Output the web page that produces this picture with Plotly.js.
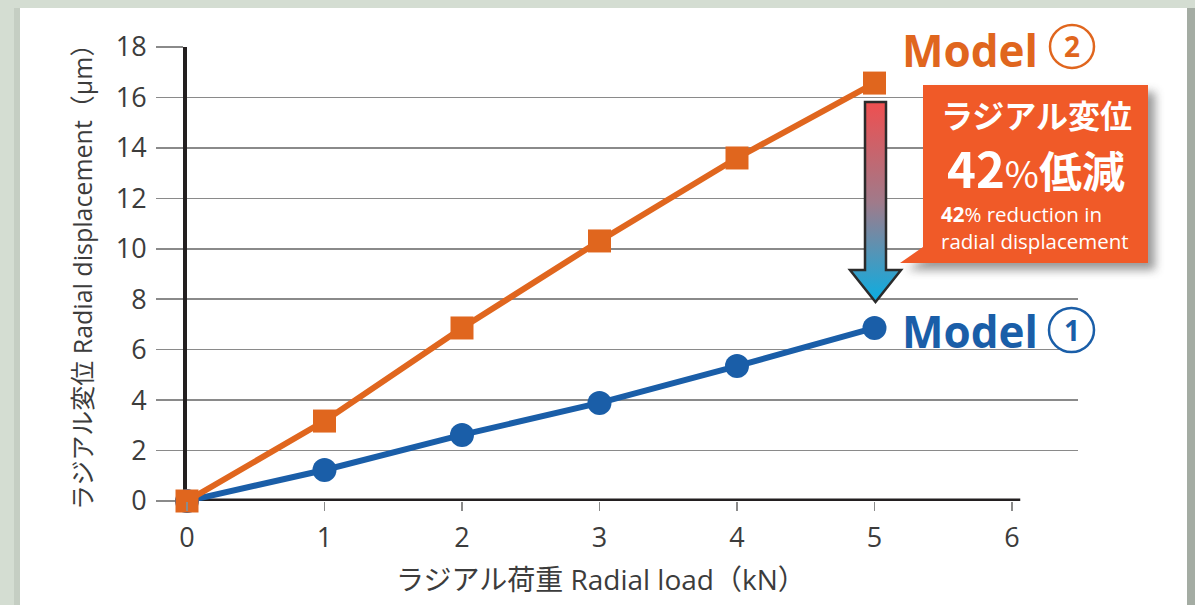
<!DOCTYPE html>
<html>
<head>
<meta charset="utf-8">
<script src="https://cdn.plot.ly/plotly-3.0.1.min.js"></script>
<style>html,body{margin:0;padding:0;background:#d4ddd2;}#chart{width:1195px;height:605px;}</style>
</head>
<body>
<div id="chart"></div>
<script>
// ---- data ----
const loads = [0, 1, 2, 3, 4, 5];
const model1 = [0, 1.23, 2.62, 3.89, 5.35, 6.86];
const model2 = [0, 3.17, 6.86, 10.31, 13.6, 16.57];
const xTickVals = [0, 1, 2, 3, 4, 5, 6];
const yTickVals = [0, 2, 4, 6, 8, 10, 12, 14, 16, 18];
const xTitle = 'ラジアル荷重 Radial load（kN）';
const yTitle = 'ラジアル変位 Radial displacement（μm）';
const model1Label = 'Model';
const model2Label = 'Model';
const calloutJa = 'ラジアル変位';
const calloutPct = '42';
const calloutJa2 = '低減';
const calloutEn = '<b>42</b>% reduction in<br>radial displacement';

// ---- layout helpers (pixel -> paper) ----
const L = 187, R = 117, T = 47, B = 104, W = 1195 - L - R, H = 605 - T - B;
const PX = X => (X - L) / W;
const PY = Y => (605 - B - Y) / H;
const svgURI = s => 'data:image/svg+xml;charset=utf-8,' + encodeURIComponent(s);

const ORANGE = '#e0661e', BLUE = '#1a5ea8', TXT = '#3c3c3c', GRID = '#8a8a8a';
const LATIN = 'Open Sans, Noto Sans CJK JP, sans-serif';
const CJK = 'Noto Sans CJK JP, Open Sans, sans-serif';

const traces = [
  {x: loads, y: model1, type: 'scatter', mode: 'lines+markers', cliponaxis: false,
   line: {color: BLUE, width: 6}, marker: {symbol: 'circle', size: 24, color: BLUE}, showlegend: false},
  {x: loads, y: model2, type: 'scatter', mode: 'lines+markers', cliponaxis: false,
   line: {color: ORANGE, width: 6}, marker: {symbol: 'square', size: 23, color: ORANGE}, showlegend: false}
];

const calloutSvg = "<svg xmlns='http://www.w3.org/2000/svg' width='280' height='210' viewBox='893 78 280 210'>" +
  "<defs><filter id='s' x='-20%' y='-20%' width='140%' height='140%'><feGaussianBlur stdDeviation='5'/></filter></defs>" +
  "<path d='M930,92 L1155,92 L1155,270 L907,270 L930,254 Z' fill='#444' opacity='0.55' filter='url(#s)'/>" +
  "<path d='M923,85 L1148,85 L1148,263 L900,263 L923,247 Z' fill='#f05a28'/></svg>";

const arrowSvg = "<svg xmlns='http://www.w3.org/2000/svg' width='62' height='210' viewBox='845 97 62 210'>" +
  "<defs><linearGradient id='g' x1='0' y1='0' x2='0' y2='1'>" +
  "<stop offset='0' stop-color='#ef4f50'/><stop offset='0.5' stop-color='#a07a8a'/><stop offset='1' stop-color='#0aaee2'/></linearGradient></defs>" +
  "<path d='M865,102 L886,102 L886,270 L901,270 L875.5,302 L850,270 L865,270 Z' fill='url(#g)' stroke='#2b2b2b' stroke-width='2.5' stroke-linejoin='miter'/></svg>";

const layout = {
  width: 1195, height: 605,
  margin: {l: L, r: R, t: T, b: B},
  paper_bgcolor: '#d4ddd2',
  plot_bgcolor: 'rgba(0,0,0,0)',
  showlegend: false,
  xaxis: {
    range: [0, 6.48], tickvals: xTickVals, ticks: 'outside', ticklen: 9, tickwidth: 1.5, tickcolor: GRID,
    showgrid: false, zeroline: false, showline: false, ticklabelstandoff: 4,
    tickfont: {family: LATIN, size: 27, color: TXT}, fixedrange: true
  },
  yaxis: {
    range: [0, 18], tickvals: yTickVals, ticks: 'outside', ticklen: 27, tickwidth: 1.5, tickcolor: GRID,
    showgrid: true, gridcolor: GRID, gridwidth: 1.5, zeroline: false,
    showline: true, linecolor: '#231f20', linewidth: 4, layer: 'below traces', ticklabelstandoff: 4,
    tickfont: {family: LATIN, size: 27, color: TXT}, fixedrange: true
  },
  shapes: [
    {type: 'rect', xref: 'paper', yref: 'paper', x0: PX(20), x1: PX(1187), y0: PY(8), y1: PY(620),
     fillcolor: '#ffffff', line: {width: 0}, layer: 'below'},
    {type: 'rect', xref: 'paper', yref: 'paper', x0: PX(14), x1: PX(20), y0: PY(8), y1: PY(620),
     fillcolor: 'rgba(150,165,150,0.25)', line: {width: 0}, layer: 'below'},
    {type: 'rect', xref: 'paper', yref: 'paper', x0: PX(1187), x1: PX(1196), y0: PY(8), y1: PY(620),
     fillcolor: '#a4aca3', line: {width: 0}, layer: 'below'},
    {type: 'line', xref: 'x', yref: 'y', x0: 0, x1: 6.06, y0: 0, y1: 0,
     line: {color: '#231f20', width: 5}, layer: 'between'},
    {type: 'circle', xref: 'paper', yref: 'paper', x0: PX(1050), x1: PX(1094), y0: PY(25), y1: PY(68),
     fillcolor: '#ffffff', line: {color: ORANGE, width: 2.5}, layer: 'above'},
    {type: 'circle', xref: 'paper', yref: 'paper', x0: PX(1049), x1: PX(1094), y0: PY(308), y1: PY(352),
     fillcolor: '#ffffff', line: {color: BLUE, width: 2.5}, layer: 'above'}
  ],
  images: [
    {source: svgURI(calloutSvg), xref: 'paper', yref: 'paper', x: PX(893), y: PY(78),
     sizex: 280 / W, sizey: 210 / H, xanchor: 'left', yanchor: 'top', sizing: 'stretch', layer: 'above'},
    {source: svgURI(arrowSvg), xref: 'paper', yref: 'paper', x: PX(845), y: PY(97),
     sizex: 62 / W, sizey: 210 / H, xanchor: 'left', yanchor: 'top', sizing: 'stretch', layer: 'above'}
  ],
  annotations: [
    {text: xTitle, xref: 'paper', yref: 'paper', x: PX(601), y: PY(579), showarrow: false,
     xanchor: 'center', yanchor: 'middle', font: {family: LATIN, size: 28, color: TXT}},
    {text: yTitle, xref: 'paper', yref: 'paper', x: PX(82), y: PY(271), showarrow: false, textangle: -90,
     xanchor: 'center', yanchor: 'middle', font: {family: LATIN, size: 25, color: TXT}},
    {text: '<b>' + model2Label + '</b>', xref: 'paper', yref: 'paper', x: PX(900), y: PY(50), showarrow: false,
     xanchor: 'left', yanchor: 'middle', font: {family: LATIN, size: 44, color: ORANGE}},
    {text: '<b>2</b>', xref: 'paper', yref: 'paper', x: PX(1072), y: PY(46), showarrow: false,
     xanchor: 'center', yanchor: 'middle', font: {family: LATIN, size: 28, color: ORANGE}},
    {text: '<b>' + model1Label + '</b>', xref: 'paper', yref: 'paper', x: PX(900), y: PY(331), showarrow: false,
     xanchor: 'left', yanchor: 'middle', font: {family: LATIN, size: 44, color: BLUE}},
    {text: '<b>1</b>', xref: 'paper', yref: 'paper', x: PX(1072), y: PY(330), showarrow: false,
     xanchor: 'center', yanchor: 'middle', font: {family: LATIN, size: 28, color: BLUE}},
    {text: '<b>' + calloutJa + '</b>', xref: 'paper', yref: 'paper', x: PX(1036), y: PY(114), showarrow: false,
     xanchor: 'center', yanchor: 'middle', font: {family: CJK, size: 32, color: '#ffffff'}},
    {text: '<span style="font-size:49px"><b>' + calloutPct + '</b></span><span style="font-size:37px">%</span><b>' + calloutJa2 + '</b>',
     xref: 'paper', yref: 'paper', x: PX(1036), y: PY(166), showarrow: false,
     xanchor: 'center', yanchor: 'middle', font: {family: CJK, size: 43, color: '#ffffff'}},
    {text: calloutEn, xref: 'paper', yref: 'paper', x: PX(939), y: PY(227), showarrow: false,
     xanchor: 'left', yanchor: 'middle', align: 'left', font: {family: LATIN, size: 20.5, color: '#ffffff'}}
  ]
};

Plotly.newPlot('chart', traces, layout, {displayModeBar: false, staticPlot: true});
</script>
</body>
</html>
